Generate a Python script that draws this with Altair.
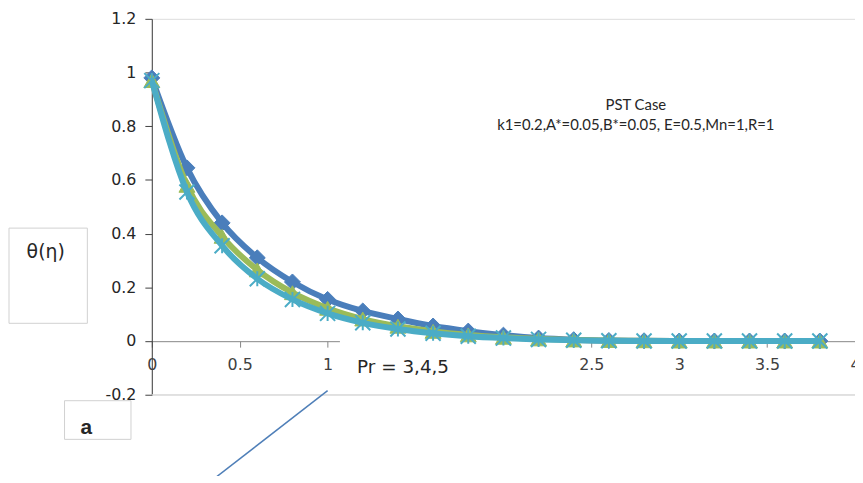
import altair as alt
import pandas as pd

eta = [round(0.2 * i, 1) for i in range(20)]
pr_labels = ["3", "4", "5"]
theta_pr3 = [0.98, 0.645, 0.44, 0.31, 0.22, 0.155, 0.112, 0.082, 0.056, 0.037,
             0.022, 0.011, 0.005, 0.002, 0.001, 0.0, 0.0, 0.0, 0.0, 0.0]
theta_pr4 = [0.97, 0.58, 0.39, 0.265, 0.18, 0.122, 0.082, 0.055, 0.036, 0.023,
             0.014, 0.008, 0.004, 0.002, 0.001, 0.0, 0.0, 0.0, 0.0, 0.0]
theta_pr5 = [0.97, 0.555, 0.355, 0.232, 0.155, 0.103, 0.068, 0.045, 0.029, 0.018,
             0.011, 0.006, 0.003, 0.001, 0.0, 0.0, 0.0, 0.0, 0.0, 0.0]
colors = ["#4a7ebb", "#9bbb59", "#4bacc6"]
shapes = ["diamond", "triangle-up", "M-1,-1L1,1M-1,1L1,-1M0,-1L0,1"]

x_ticks = [0, 0.5, 1, 1.5, 2, 2.5, 3, 3.5, 4]
x_hidden = [1.5, 2]
y_ticks = [-0.2, 0, 0.2, 0.4, 0.6, 0.8, 1.0, 1.2]

# annotation geometry in data units
mask_x = [1.07, 2.35]
mask_y = [0.002, -0.19]
arrow_x = [1.0, 0.34]
arrow_y = [-0.185, -0.52]
base_x = [0.0, 4.0]
base_y = -0.2

series = [theta_pr3, theta_pr4, theta_pr5]
rows = []
for lab, vals in zip(pr_labels, series):
    for e, v in zip(eta, vals):
        rows.append({"eta": e, "theta": v, "Pr": lab})
df = pd.DataFrame(rows)

xscale = alt.Scale(domain=[0, 4], nice=False)
yscale = alt.Scale(domain=[-0.2, 1.2], nice=False)

hide_expr = " || ".join(f"datum.value == {v}" for v in x_hidden)
xaxis = alt.Axis(values=x_ticks, title=None, grid=False,
                 labelExpr=f"({hide_expr}) ? '' : format(datum.value, '~g')",
                 offset=-54, domainColor="#868686", tickColor="#868686",
                 tickSize=6, labelPadding=10, labelFont="DejaVu Sans",
                 labelFontSize=16, labelColor="#404040", labelFlush=False,
                 labelOverlap=False)
yaxis = alt.Axis(values=y_ticks, title=None, grid=False,
                 labelExpr="replace(format(datum.value, '~g'), '\u2212', '-')",
                 domainColor="#404040", tickColor="#404040", tickSize=7,
                 labelPadding=9, labelFont="DejaVu Sans", labelFontSize=16,
                 labelColor="#262626", labelFlush=False, labelOverlap=False)

base_df = pd.DataFrame({"x": [base_x[0]], "x2": [base_x[1]], "y": [base_y]})
baseline = alt.Chart(base_df).mark_rule(color="#d9d9d9", strokeWidth=1, clip=False).encode(
    x=alt.X("x:Q", scale=xscale, axis=xaxis),
    x2="x2:Q",
    y=alt.Y("y:Q", scale=yscale, axis=yaxis),
)

mask_df = pd.DataFrame({"x": [mask_x[0]], "x2": [mask_x[1]],
                        "y": [mask_y[0]], "y2": [mask_y[1]]})
mask = alt.Chart(mask_df).mark_rect(color="white").encode(
    x=alt.X("x:Q", scale=xscale), x2="x2:Q",
    y=alt.Y("y:Q", scale=yscale), y2="y2:Q",
)

layers = [baseline, mask]
for lab, col, shp in zip(pr_labels, colors, shapes):
    sub = df[df["Pr"] == lab]
    line = alt.Chart(sub).mark_line(color=col, strokeWidth=6,
                                    interpolate="monotone").encode(
        x=alt.X("eta:Q", scale=xscale),
        y=alt.Y("theta:Q", scale=yscale),
    )
    if shp.startswith("M"):
        pt = alt.Chart(sub).mark_point(shape=shp, filled=False, color=col,
                                       strokeWidth=2, size=230, opacity=1).encode(
            x=alt.X("eta:Q", scale=xscale),
            y=alt.Y("theta:Q", scale=yscale),
        )
    else:
        pt = alt.Chart(sub).mark_point(shape=shp, filled=True, fill=col, stroke=col,
                                       strokeWidth=1, size=260, opacity=1).encode(
            x=alt.X("eta:Q", scale=xscale),
            y=alt.Y("theta:Q", scale=yscale),
        )
    layers += [line, pt]

arrow_df = pd.DataFrame({"x": [arrow_x[0]], "x2": [arrow_x[1]],
                         "y": [arrow_y[0]], "y2": [arrow_y[1]]})
arrow = alt.Chart(arrow_df).mark_rule(color="#4f7fb8", strokeWidth=1.5, clip=False).encode(
    x=alt.X("x:Q", scale=xscale), x2="x2:Q",
    y=alt.Y("y:Q", scale=yscale), y2="y2:Q",
)
layers.append(arrow)

one = pd.DataFrame({"a": [0]})
box_theta = alt.Chart(one).mark_rect(fill="white", stroke="#d0d0d0", strokeWidth=1).encode(
    x=alt.value(-144), x2=alt.value(-65), y=alt.value(211), y2=alt.value(307))
txt_theta = alt.Chart(one).mark_text(text="\u03b8(\u03b7)", font="DejaVu Sans", fontSize=19,
                                     color="#262626", align="center", baseline="middle").encode(
    x=alt.value(-107), y=alt.value(235))
box_a = alt.Chart(one).mark_rect(fill="white", stroke="#d0d0d0", strokeWidth=1).encode(
    x=alt.value(-88), x2=alt.value(-21), y=alt.value(385), y2=alt.value(424))
txt_a = alt.Chart(one).mark_text(text="a", font="Liberation Sans", fontSize=21,
                                 fontWeight="bold", color="#262626", align="center",
                                 baseline="middle").encode(x=alt.value(-66), y=alt.value(413))
txt_pr = alt.Chart(one).mark_text(text="Pr = 3,4,5", font="DejaVu Sans", fontSize=18.5,
                                  color="#262626", align="left", baseline="middle").encode(
    x=alt.value(207), y=alt.value(351))
txt_case1 = alt.Chart(one).mark_text(text="PST Case", font="Lato", fontSize=15,
                                     color="#262626", align="center", baseline="middle").encode(
    x=alt.value(488), y=alt.value(87))
txt_case2 = alt.Chart(one).mark_text(text="k1=0.2,A*=0.05,B*=0.05, E=0.5,Mn=1,R=1", font="Lato",
                                     fontSize=15, color="#262626", align="center",
                                     baseline="middle").encode(x=alt.value(488), y=alt.value(107))
layers += [box_theta, txt_theta, box_a, txt_a, txt_pr, txt_case1, txt_case2]

chart = alt.layer(*layers).properties(
    width=709, height=379,
    autosize=alt.AutoSizeParams(type="none"),
    padding={"left": 145, "top": 9, "right": 0, "bottom": 80},
).configure_view(stroke=None).configure(background="white")

chart.save("out.html", embed_options={"renderer": "svg", "actions": False})
